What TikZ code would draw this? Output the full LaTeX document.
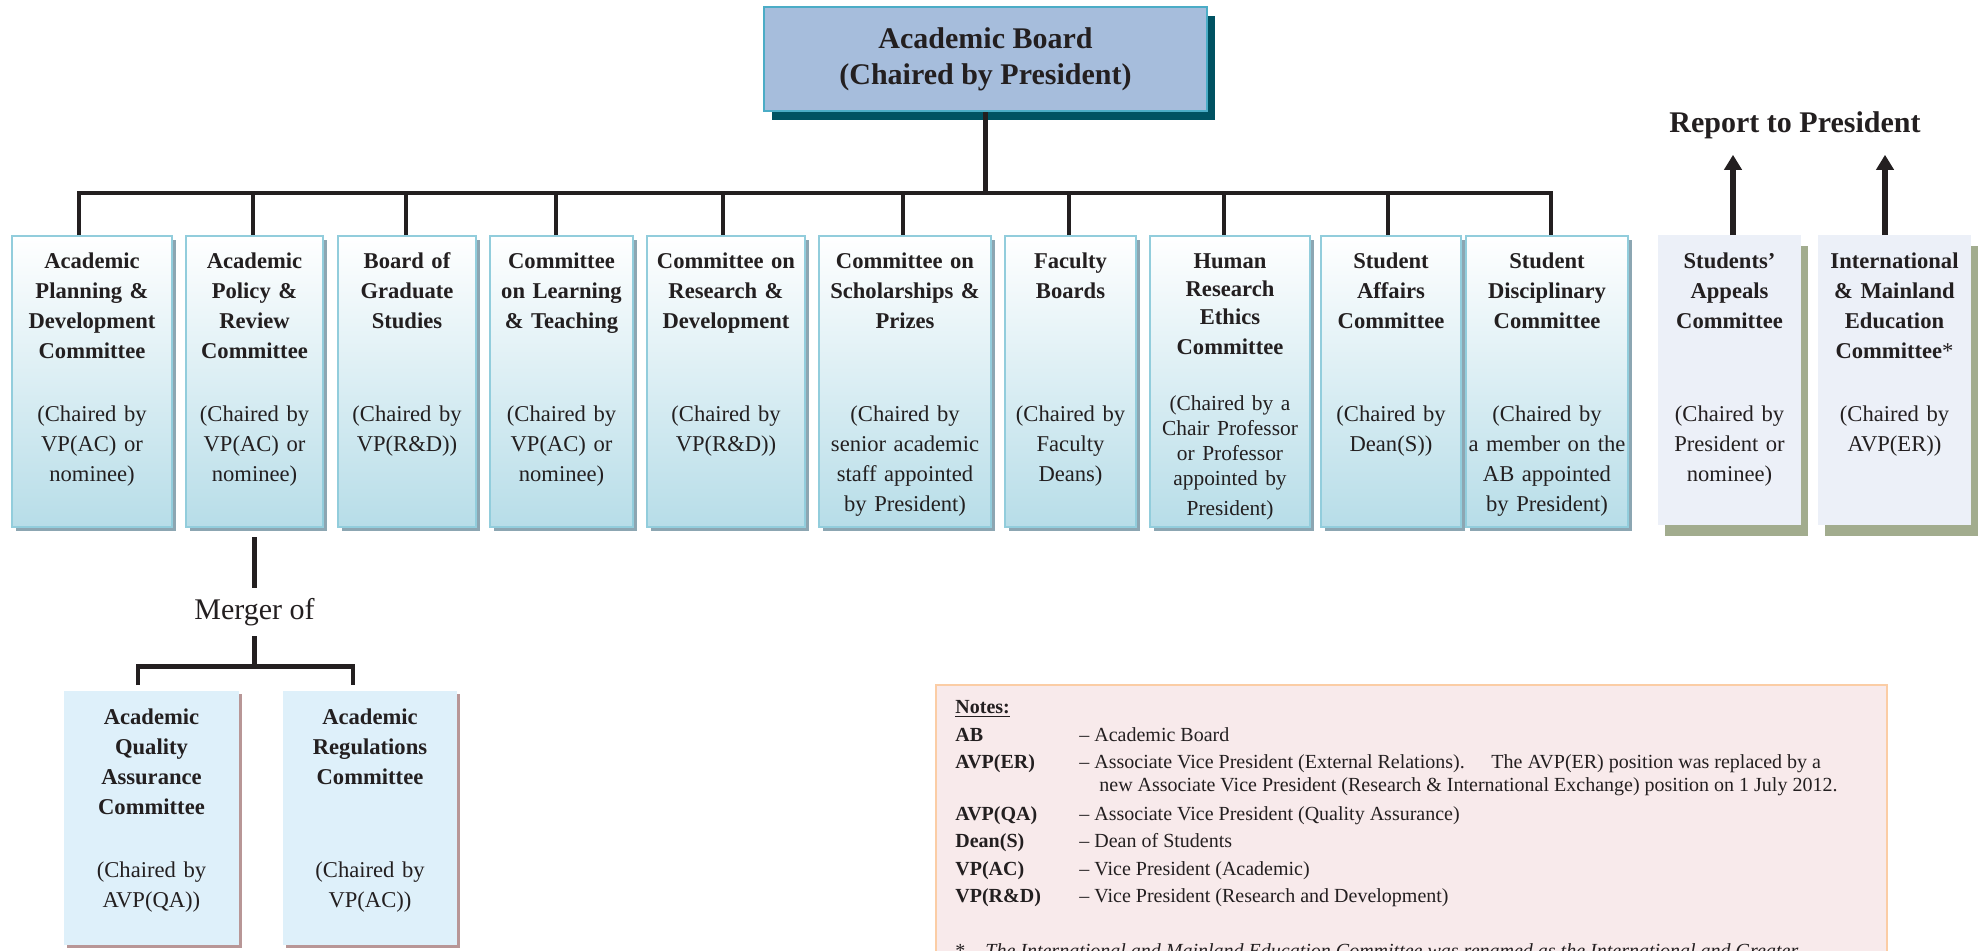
\documentclass[tikz,border=0pt]{standalone}
\usepackage{fontspec}
\setmainfont{Liberation Serif}
\usetikzlibrary{positioning,shadows,arrows.meta}

\definecolor{txt}{RGB}{35,31,32}
\definecolor{abfill}{RGB}{166,189,220}
\definecolor{abline}{RGB}{75,172,198}
\definecolor{abshade}{RGB}{0,82,98}
\definecolor{cline}{RGB}{146,205,220}
\definecolor{cfill}{RGB}{183,221,232}
\definecolor{cshade}{RGB}{140,166,178}
\definecolor{rfill}{RGB}{236,240,248}
\definecolor{rshade}{RGB}{162,172,142}
\definecolor{bfill}{RGB}{222,240,250}
\definecolor{bshade}{RGB}{184,150,150}
\definecolor{nfill}{RGB}{248,234,235}
\definecolor{nline}{RGB}{251,205,165}

% box, title and chair text of one committee
\newcommand{\cmte}[8][cbox]{%
  \node[#1, minimum width=#5] (#2) at (#3,#4) {};
  \node[ttl] (#2-t) at ([yshift=-16.5pt]#2.north) {#6};
  \node[chr] (#2-c) at ([yshift=-#7]#2.north) {#8};}

\begin{document}
\begin{tikzpicture}[x=0.5pt,y=-0.5pt,
  conn/.style={draw=txt,line width=2.2pt},
  arr/.style={draw=txt,line width=2.6pt,-{Triangle[width=8.5pt,length=7.5pt]}},
  abbox/.style={draw=abline,line width=1pt,fill=abfill,minimum width=221.5pt,minimum height=52pt,
    align=center,text=txt,font=\fontsize{15}{18}\selectfont\bfseries,
    drop shadow={shadow xshift=4pt,shadow yshift=-4.5pt,fill=abshade,opacity=1}},
  cbox/.style={anchor=north,draw=cline,line width=1pt,top color=white,bottom color=cfill,
    minimum height=145.5pt,inner sep=0pt,
    drop shadow={shadow xshift=2pt,shadow yshift=-2pt,fill=cshade,opacity=1}},
  rbox/.style={anchor=north,fill=rfill,minimum height=145pt,inner sep=0pt,
    drop shadow={shadow xshift=3.5pt,shadow yshift=-5.5pt,fill=rshade,opacity=1}},
  bbox/.style={anchor=north,fill=bfill,minimum height=127pt,inner sep=0pt,
    drop shadow={shadow xshift=1.5pt,shadow yshift=-1.5pt,fill=bshade,opacity=1}},
  ttl/.style={anchor=base,text width=100pt,align=center,inner sep=0pt,text=txt,
    font=\fontsize{11.3}{15}\selectfont\bfseries},
  chr/.style={ttl,font=\fontsize{11.3}{15}\selectfont\mdseries},
  rep/.style={anchor=base,inner xsep=0pt,inner ysep=8pt,text=txt,font=\fontsize{15}{18}\selectfont\bfseries},
  merger/.style={inner xsep=0pt,inner ysep=5pt,text=txt,font=\fontsize{15}{18}\selectfont},
  nbox/.style={anchor=north west,draw=nline,line width=1pt,fill=nfill,minimum width=475.5pt,minimum height=170pt},
  ntxt/.style={anchor=base west,inner sep=0pt,text=txt,font=\fontsize{10}{13.75}\selectfont}]

\useasboundingbox (0,0) rectangle (1981,950);

\node[abbox] (ab) at (985.5,59) {Academic Board\\(Chaired by President)};
\coordinate[below=40.5pt of ab.south] (bj);
\draw[conn] (ab) -- (bj);

\cmte{apdc}{92}{235}{80pt}{Academic\\Planning \&\\Development\\Committee}{93pt}{(Chaired by\\VP(AC) or\\nominee)}
\cmte{aprc}{254.5}{235}{68.5pt}{Academic\\Policy \&\\Review\\Committee}{93pt}{(Chaired by\\VP(AC) or\\nominee)}
\cmte{bgs}{407}{235}{69pt}{Board of\\Graduate\\Studies}{93pt}{(Chaired by\\VP(R\&D))}
\cmte{clt}{561.5}{235}{71.5pt}{Committee\\on Learning\\\& Teaching}{93pt}{(Chaired by\\VP(AC) or\\nominee)}
\cmte{crd}{726}{235}{79pt}{Committee on\\Research \&\\Development}{93pt}{(Chaired by\\VP(R\&D))}
\cmte{csp}{905}{235}{86pt}{Committee on\\Scholarships \&\\Prizes}{93pt}{(Chaired by\\senior academic\\staff appointed\\by President)}
\cmte{fb}{1070.5}{235}{65.5pt}{Faculty\\Boards}{93pt}{(Chaired by\\Faculty\\Deans)}
\cmte{hrec}{1230}{235}{80pt}{\fontsize{11.3}{14}\selectfont Human\\Research\\Ethics\\Committee}{87.75pt}{\fontsize{10.7}{12.5}\selectfont(Chaired by a\\Chair Professor\\or Professor\\appointed by\\President)}
\cmte{sac}{1391}{235}{70pt}{Student\\Affairs\\Committee}{93pt}{(Chaired by\\Dean(S))}
\cmte{sdc}{1547}{235}{81pt}{Student\\Disciplinary\\Committee}{93pt}{(Chaired by\\a member on the\\AB appointed\\by President)}

\draw[conn] ([xshift=-6.5pt]apdc.north) |- (bj) ([xshift=-0.75pt]aprc.north) |- (bj)
  ([xshift=-0.5pt]bgs.north) |- (bj) ([xshift=-2.75pt]clt.north) |- (bj)
  ([xshift=-1.5pt]crd.north) |- (bj) ([xshift=-1pt]csp.north) |- (bj)
  ([xshift=-0.75pt]fb.north) |- (bj) ([xshift=-3pt]hrec.north) |- (bj)
  ([xshift=-1.5pt]sac.north) |- (bj) ([xshift=2pt]sdc.north) |- (bj);

% merged committees
\node[merger, below=30pt of aprc.south] (merge) {Merger of};
\draw[conn] ([yshift=-4.5pt]aprc.south) -- (merge);
\coordinate[below=15pt of merge.south] (mj);
\draw[conn] (merge) -- (mj);
\cmte[bbox]{aqac}{151.5}{691}{87.5pt}{Academic\\Quality\\Assurance\\Committee}{93pt}{(Chaired by\\AVP(QA))}
\cmte[bbox]{arc}{370}{691}{87pt}{Academic\\Regulations\\Committee}{93pt}{(Chaired by\\VP(AC))}
\draw[conn] ([shift={(-6.75pt,3pt)}]aqac.north) |- (mj) -| ([shift={(-8.5pt,3pt)}]arc.north);

% reporting to the president
\node[rep] (rep) at (1795,132) {Report to President};
\cmte[rbox]{sapc}{1729.5}{235}{71.5pt}{Students'\\Appeals\\Committee}{93pt}{(Chaired by\\President or\\nominee)}
\cmte[rbox]{imec}{1894.5}{235}{76.5pt}{International\\\& Mainland\\Education\\Committee{\mdseries*}}{93pt}{(Chaired by\\AVP(ER))}
\draw[arr] ([xshift=1.75pt]sapc.north) -- ([xshift=1.75pt]sapc.north |- rep.south);
\draw[arr] ([xshift=-4.75pt]imec.north) -- ([xshift=-4.75pt]imec.north |- rep.south);

% notes
\node[nbox] (notes) at (935,684) {};
\node[ntxt] (ntxt) at ([shift={(10pt,-14.75pt)}]notes.north west) {%
\begin{tabular}[t]{@{}p{62pt}@{}l@{}}
\underline{\textbf{Notes:}} & \\
\textbf{AB} & -- Academic Board\\
\textbf{AVP(ER)} & -- Associate Vice President (External Relations). \quad The AVP(ER) position was replaced by a\\[-2.5pt]
 & \hspace*{10pt}new Associate Vice President (Research \& International Exchange) position on 1 July 2012.\\[0.75pt]
\textbf{AVP(QA)} & -- Associate Vice President (Quality Assurance)\\
\textbf{Dean(S)} & -- Dean of Students\\
\textbf{VP(AC)} & -- Vice President (Academic)\\
\textbf{VP(R\&D)} & -- Vice President (Research and Development)\\[13.75pt]
\multicolumn{2}{@{}l@{}}{*\quad\textit{The International and Mainland Education Committee was renamed as the International and Greater}}
\end{tabular}};

\end{tikzpicture}
\end{document}
